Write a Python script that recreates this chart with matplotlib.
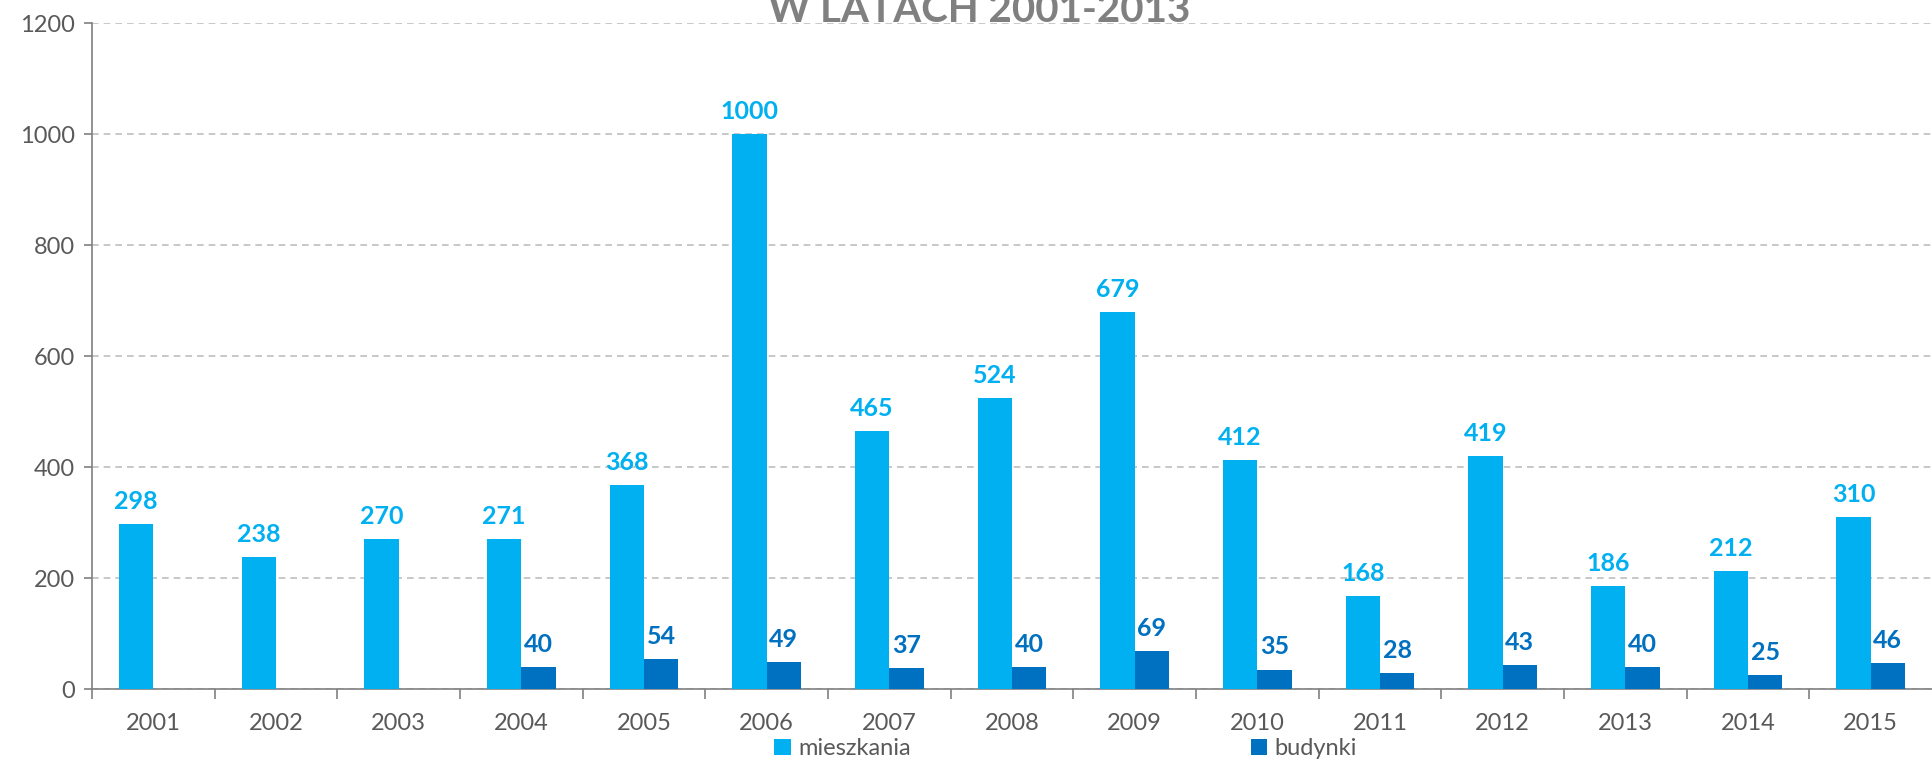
import numpy as np
import matplotlib
matplotlib.use('Agg')
import matplotlib.pyplot as plt

plt.rcParams['font.family'] = ['Lato', 'DejaVu Sans']

# dane
lata = ['2001', '2002', '2003', '2004', '2005', '2006', '2007', '2008',
        '2009', '2010', '2011', '2012', '2013', '2014', '2015']
mieszkania = [298, 238, 270, 271, 368, 1000, 465, 524, 679, 412, 168, 419, 186, 212, 310]
budynki = [None, None, None, 40, 54, 49, 37, 40, 69, 35, 28, 43, 40, 25, 46]

kolor_m = '#00B0F0'
kolor_b = '#0070C0'
szary = '#808080'

fig = plt.figure(figsize=(19.32, 7.6), dpi=100)
ax = fig.add_axes([0.0476, 0.0934, 0.9524, 0.8763])

x = np.arange(len(lata))
w = 0.28
b_vals = [v if v is not None else 0 for v in budynki]

ax.bar(x - w / 2, mieszkania, w, color=kolor_m, label='mieszkania', zorder=3)
ax.bar(x + w / 2, b_vals, w, color=kolor_b, label='budynki', zorder=3)

# etykiety
for i, v in enumerate(mieszkania):
    ax.annotate(str(v), (x[i] - w / 2, v), xytext=(0, 8), textcoords='offset points',
                ha='center', va='bottom', color=kolor_m, fontsize=18, fontweight='bold')
for i, v in enumerate(budynki):
    if v is None:
        continue
    ax.annotate(str(v), (x[i] + w / 2, v), xytext=(0, 8), textcoords='offset points',
                ha='center', va='bottom', color=kolor_b, fontsize=18, fontweight='bold')

ax.set_xlim(-0.5, len(lata) - 0.5)
ax.set_ylim(0, 1200)
ax.set_yticks(range(0, 1201, 200))
ax.yaxis.grid(True, linestyle=(0, (4, 3)), color='#BFBFBF', linewidth=1.2, zorder=0)

ax.set_xticks(x)
ax.set_xticklabels(lata)
ax.set_xticks(np.arange(-0.5, len(lata) - 0.5, 1), minor=True)
ax.tick_params(axis='x', which='major', length=0, pad=17, labelsize=17, labelcolor='#595959')
ax.tick_params(axis='x', which='minor', length=7, color=szary, width=1.2)
ax.tick_params(axis='y', length=6, color=szary, width=1.2, labelsize=17, labelcolor='#595959', pad=6)

for s in ['top', 'right']:
    ax.spines[s].set_visible(False)
for s in ['left', 'bottom']:
    ax.spines[s].set_color(szary)
    ax.spines[s].set_linewidth(1.2)

fig.text(0.507, 0.962, 'W LATACH 2001-2013', ha='center', va='bottom',
         fontsize=29, fontweight='bold', color='#808080')

fig.legend(loc='lower center', bbox_to_anchor=(0.5515, -0.027), ncol=2, frameon=False,
           fontsize=17, handlelength=0.7, handleheight=0.7, handletextpad=0.3,
           columnspacing=14.4, labelcolor='#595959')

fig.savefig('out.png', dpi=100)
